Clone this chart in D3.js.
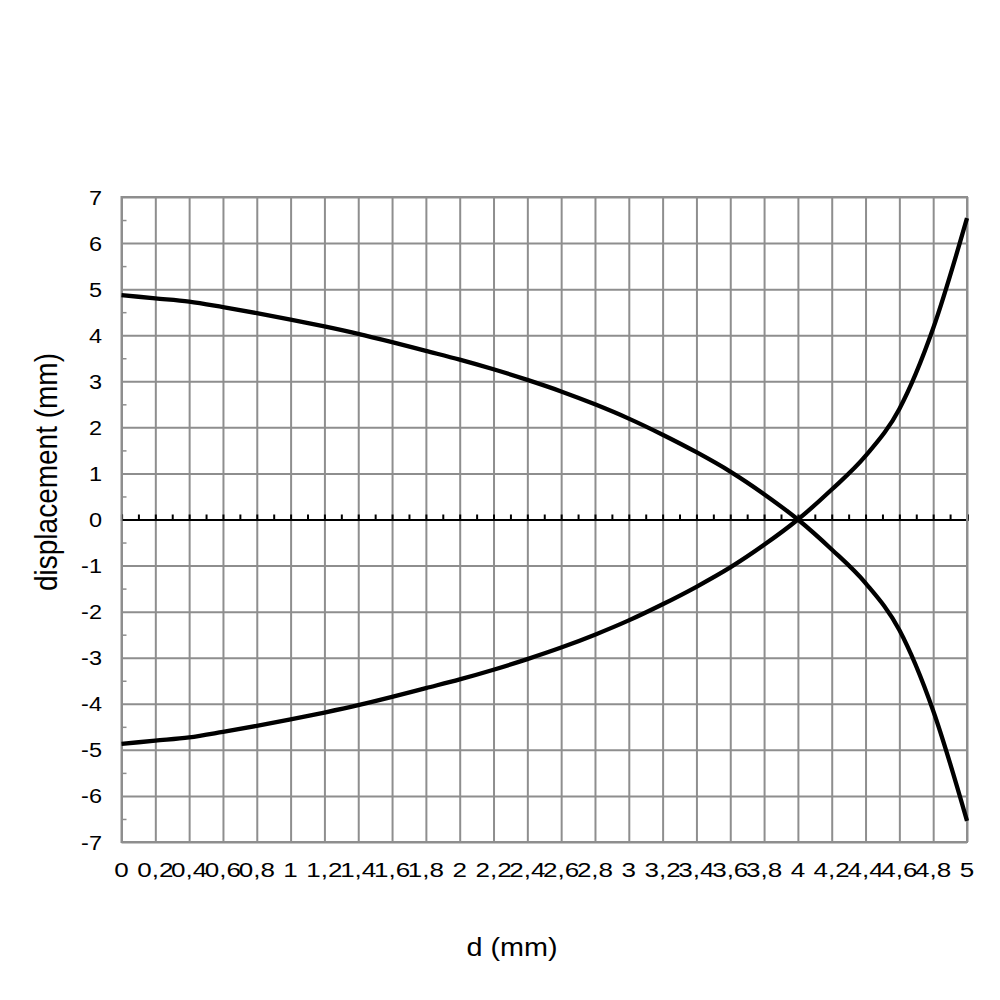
<!DOCTYPE html>
<html>
<head>
<meta charset="utf-8">
<script src="https://cdn.jsdelivr.net/npm/d3@7"></script>
<style>
  body { margin: 0; background: #fff; }
  text { font-family: "Liberation Sans", Arial, Helvetica, sans-serif; fill: #000; }
</style>
</head>
<body>
<div id="chart"></div>
<script>
// categories on the x axis (d in mm)
const categories = [0, 0.2, 0.4, 0.6, 0.8, 1, 1.2, 1.4, 1.6, 1.8, 2, 2.2, 2.4, 2.6, 2.8, 3, 3.2, 3.4, 3.6, 3.8, 4, 4.2, 4.4, 4.6, 4.8, 5];
const xLabels = ['0', '0,2', '0,4', '0,6', '0,8', '1', '1,2', '1,4', '1,6', '1,8', '2', '2,2', '2,4', '2,6', '2,8', '3', '3,2', '3,4', '3,6', '3,8', '4', '4,2', '4,4', '4,6', '4,8', '5'];
// displacement curves
const upperSeries = [4.87, 4.80, 4.73, 4.61, 4.48, 4.34, 4.19, 4.03, 3.85, 3.66, 3.47, 3.26, 3.03, 2.78, 2.50, 2.19, 1.84, 1.46, 1.04, 0.55, 0, -0.65, -1.38, -2.40, -4.15, -6.54];
const lowerSeries = [-4.87, -4.80, -4.73, -4.61, -4.48, -4.34, -4.19, -4.03, -3.85, -3.66, -3.47, -3.26, -3.03, -2.78, -2.50, -2.19, -1.84, -1.46, -1.04, -0.55, 0, 0.65, 1.38, 2.40, 4.15, 6.54];
const yTicks = [-7, -6, -5, -4, -3, -2, -1, 0, 1, 2, 3, 4, 5, 6, 7];

const width = 1000, height = 1000;
const plotLeft = 121.5, plotRight = 967, plotTop = 197, plotBottom = 842;
const gridColor = '#8e8e8e';

const svg = d3.select('#chart').append('svg')
    .attr('width', width)
    .attr('height', height)
    .attr('xmlns', 'http://www.w3.org/2000/svg');

// scales
const x = d3.scalePoint().domain(categories).range([plotLeft, plotRight]);
const xLin = d3.scaleLinear().domain([0, 5]).range([plotLeft, plotRight]);
const y = d3.scaleLinear().domain([-7, 7]).range([plotBottom, plotTop]);

// vertical grid lines
svg.append('g')
    .attr('transform', `translate(0,${plotBottom})`)
    .call(d3.axisBottom(x).tickSize(-(plotBottom - plotTop)).tickFormat(''))
    .call(g => g.select('.domain').remove())
    .call(g => g.selectAll('line').attr('stroke', gridColor).attr('stroke-width', 2));

// horizontal grid lines
svg.append('g')
    .attr('transform', `translate(${plotLeft},0)`)
    .call(d3.axisLeft(y).tickValues(yTicks.filter(v => v !== 0)).tickSize(-(plotRight - plotLeft)).tickFormat(''))
    .call(g => g.select('.domain').remove())
    .call(g => g.selectAll('line').attr('stroke', gridColor).attr('stroke-width', 2));

// minor ticks on the y axis (every 0.5)
svg.append('g')
    .attr('transform', `translate(${plotLeft},0)`)
    .call(d3.axisRight(y).tickValues(d3.range(-6.5, 7, 1)).tickSize(5).tickFormat(''))
    .call(g => g.select('.domain').remove())
    .call(g => g.selectAll('line').attr('stroke', gridColor).attr('stroke-width', 1.5));

// y tick labels
svg.append('g')
    .selectAll('text')
    .data(yTicks)
    .enter().append('text')
    .attr('transform', d => `translate(102,${y(d)}) scale(1.12,1)`)
    .attr('dy', '0.36em')
    .attr('text-anchor', 'end')
    .style('font-size', '21px')
    .text(d => d);

// x tick labels
svg.append('g')
    .selectAll('text')
    .data(categories)
    .enter().append('text')
    .attr('transform', d => `translate(${x(d)},877) scale(1.24,1)`)
    .attr('text-anchor', 'middle')
    .style('font-size', '21px')
    .text((d, i) => xLabels[i]);

// zero line with small ticks
svg.append('g')
    .attr('transform', `translate(0,${y(0)})`)
    .call(d3.axisTop(xLin).tickValues(d3.range(0, 5.001, 0.1)).tickSize(5).tickFormat(''))
    .call(g => g.select('.domain').attr('stroke', '#000').attr('stroke-width', 2.2))
    .call(g => g.selectAll('line').attr('stroke', '#000').attr('stroke-width', 2));

// plot border
svg.append('rect')
    .attr('x', plotLeft)
    .attr('y', plotTop)
    .attr('width', plotRight - plotLeft)
    .attr('height', plotBottom - plotTop)
    .attr('fill', 'none')
    .attr('stroke', gridColor)
    .attr('stroke-width', 2);

// curves
const line = d3.line()
    .curve(d3.curveMonotoneX)
    .x((d, i) => x(categories[i]))
    .y(d => y(d));

[upperSeries, lowerSeries].forEach(series => {
    svg.append('path')
        .datum(series)
        .attr('d', line)
        .attr('fill', 'none')
        .attr('stroke', '#000')
        .attr('stroke-width', 4.3)
        .attr('stroke-linejoin', 'round');
});

// axis titles
svg.append('text')
    .attr('transform', 'translate(512,956) scale(1.15,1)')
    .attr('text-anchor', 'middle')
    .style('font-size', '25px')
    .text('d (mm)');

svg.append('text')
    .attr('transform', 'translate(57,472) rotate(-90) scale(1,1.1)')
    .attr('text-anchor', 'middle')
    .style('font-size', '28px')
    .text('displacement (mm)');
</script>
</body>
</html>
